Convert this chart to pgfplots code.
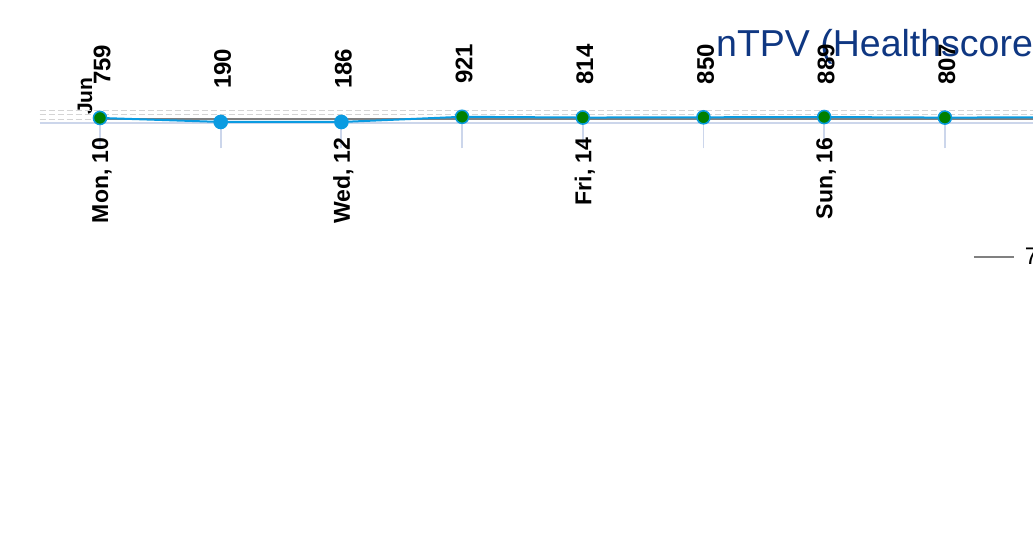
\documentclass[border=0pt]{standalone}
\usepackage{fontspec}
\setmainfont{Liberation Sans}
\usepackage{pgfplots}
\pgfplotsset{compat=1.18}
\definecolor{hcblue}{RGB}{10,155,225}
\definecolor{hcgreen}{RGB}{0,128,0}
\definecolor{titleblue}{RGB}{15,55,130}
\definecolor{axiscol}{HTML}{CCD6EB}
\definecolor{gridcol}{HTML}{D4D4D4}
\definecolor{avggray}{RGB}{128,128,128}
\begin{document}
\begin{tikzpicture}[x=1pt,y=1pt]
\useasboundingbox (0,0) rectangle (1033,548);
\clip (0,0) rectangle (1033,548);
\node[anchor=base west, inner sep=0pt, text=titleblue, font=\fontsize{37.5}{40}\selectfont] at (716,491) {nTPV (Healthscore)};
\node[rotate=90, anchor=base west, inner sep=0pt, font=\bfseries\fontsize{21}{24}\selectfont] at (92,433) {Jun};
\begin{axis}[
  at={(39.65pt,424.7pt)}, anchor=south west,
  scale only axis, width=1086.3pt, height=12.7pt,
  xmin=-0.5, xmax=8.5, ymin=0, ymax=1800,
  clip=false,
  axis x line*=bottom, axis y line*=left,
  y axis line style={draw=none},
  x axis line style={draw=axiscol, line width=2pt, -},
  xtick={0,...,8},
  xticklabels={{Mon, 10},{},{Wed, 12},{},{Fri, 14},{},{Sun, 16},{},{}},
  major tick length=25pt, tick align=outside,
  xtick style={draw=axiscol, line width=1.8pt},
  ytick={600,1200,1800}, yticklabels={}, ytick style={draw=none},
  ymajorgrids,
  y grid style={draw=gridcol, line width=1pt, dash pattern=on 6pt off 3pt},
  xticklabel shift=-11pt,
  xticklabel style={rotate=90, anchor=east, yshift=-2pt, font=\bfseries\fontsize{23}{28}\selectfont, inner sep=0pt},
  /pgf/number format/assume math mode=true,
  legend style={at={(0.859,-10.53)}, anchor=west, draw=none, fill=none, inner sep=0pt,
    font=\fontsize{24}{28}\selectfont},
  legend image code/.code={\draw[#1] (0pt,0pt) -- (40pt,0pt);},
]
\addplot[avggray, line width=2pt] coordinates {(0,677) (1,677) (2,677) (3,677) (4,677) (5,677) (6,677) (7,677) (8,677)};
\addlegendentry{\hspace{8pt}7-Day Average}
\addplot[hcblue, line width=2pt, mark=*, mark size=6.3pt, mark options={fill=hcblue, draw=hcblue},
  nodes near coords,
  every node near coord/.append style={rotate=90, anchor=west, xshift=32pt, yshift=-2pt, inner sep=0pt, text=black, font=\bfseries\fontsize{24}{28}\selectfont},
  forget plot]
  coordinates {(0,759) (1,190) (2,186) (3,921) (4,814) (5,850) (6,889) (7,807) (8,860)};
\addplot[only marks, mark=*, mark size=6.3pt, mark options={fill=hcgreen, draw=hcblue, line width=1pt}, forget plot]
  coordinates {(0,759) (3,921) (4,814) (5,850) (6,889) (7,807) (8,860)};
\end{axis}
\end{tikzpicture}
\end{document}
